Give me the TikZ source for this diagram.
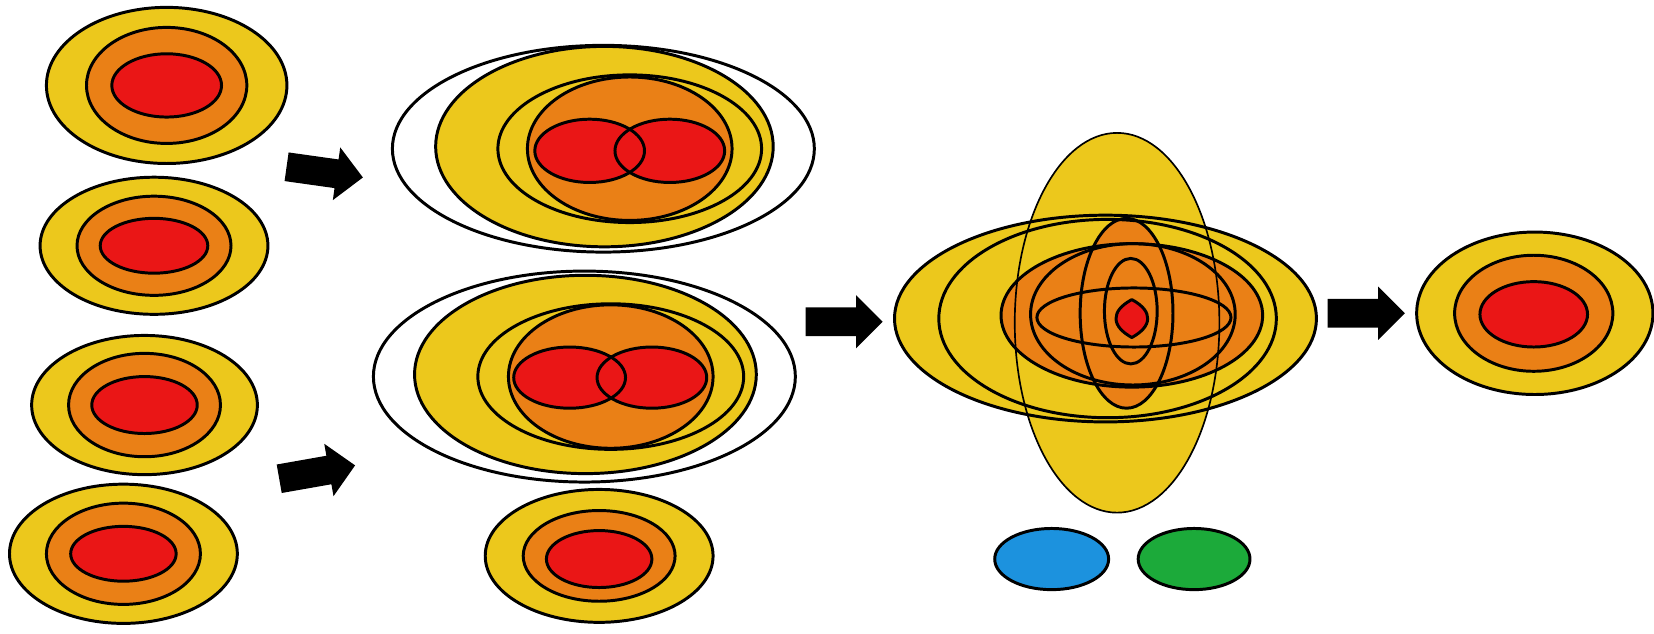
\documentclass[tikz,border=0pt]{standalone}
\usetikzlibrary{shapes.arrows}
\definecolor{ycol}{RGB}{236,200,28}
\definecolor{ocol}{RGB}{234,128,22}
\definecolor{rcol}{RGB}{234,22,22}
\definecolor{bcol}{RGB}{28,146,222}
\definecolor{gcol}{RGB}{28,170,58}
\begin{document}
\begin{tikzpicture}[x=0.01cm,y=-0.01cm,
  ln/.style={draw=black,line width=0.8pt},
  hairln/.style={draw=black,line width=0.45pt},
  fatarrow/.style={single arrow,fill=black,draw=none,inner xsep=0pt,inner ysep=0.13cm,
    minimum height=0.73cm,single arrow head extend=0.115cm,single arrow tip angle=90,anchor=tail}]
\fill[white] (0,0) rectangle (1568,601);
\useasboundingbox (0,0) rectangle (1568,601);

% left column
\foreach \cx/\cy/\ra/\rb/\rc/\rd/\re/\rf in {158/81/114/74/76/55/52/30, 146/233/108/65/73/47/51/26, 137/384/107/66/72/49/50/27, 117/525/108/66/73/48/50/26}{
  \draw[ln,fill=ycol] (\cx,\cy) ellipse [x radius=\ra,y radius=\rb];
  \draw[ln,fill=ocol] (\cx,\cy) ellipse [x radius=\rc,y radius=\rd];
  \draw[ln,fill=rcol] (\cx,\cy) ellipse [x radius=\re,y radius=\rf];
}

% top-middle merged group
\draw[ln] (572,141) ellipse [x radius=200,y radius=98];
\fill[ycol] (573,139) ellipse [x radius=160,y radius=95];
\fill[ocol] (597,141) ellipse [x radius=97,y radius=68];
\fill[rcol] (559,143) ellipse [x radius=52,y radius=30];
\fill[rcol] (635,143) ellipse [x radius=52,y radius=30];
\draw[ln] (573,139) ellipse [x radius=160,y radius=95];
\draw[ln] (597,141) ellipse [x radius=125,y radius=70];
\draw[ln] (597,141) ellipse [x radius=97,y radius=68];
\draw[ln] (559,143) ellipse [x radius=52,y radius=30];
\draw[ln] (635,143) ellipse [x radius=52,y radius=30];

% bottom-middle merged group
\draw[ln] (554,357) ellipse [x radius=200,y radius=100];
\fill[ycol] (555,355) ellipse [x radius=162,y radius=94];
\fill[ocol] (579,357) ellipse [x radius=97,y radius=68];
\fill[rcol] (540,358) ellipse [x radius=53,y radius=29];
\fill[rcol] (618,358) ellipse [x radius=52,y radius=29];
\draw[ln] (555,355) ellipse [x radius=162,y radius=94];
\draw[ln] (579,357) ellipse [x radius=126,y radius=69];
\draw[ln] (579,357) ellipse [x radius=97,y radius=68];
\draw[ln] (540,358) ellipse [x radius=53,y radius=29];
\draw[ln] (618,358) ellipse [x radius=52,y radius=29];

% bottom small
\draw[ln,fill=ycol] (568,527) ellipse [x radius=108,y radius=63];
\draw[ln,fill=ocol] (568,527) ellipse [x radius=72,y radius=43];
\draw[ln,fill=rcol] (568,530) ellipse [x radius=50,y radius=27];

% central group
\fill[ycol] (1059,306) ellipse [x radius=97,y radius=180];
\fill[ycol] (1048,302) ellipse [x radius=200,y radius=98];
\fill[ocol] (1073,299) ellipse [x radius=124,y radius=68];
\fill[ocol] (1068,297) ellipse [x radius=44,y radius=90];
\draw[hairln] (1059,306) ellipse [x radius=97,y radius=180];
\draw[ln] (1048,302) ellipse [x radius=200,y radius=98];
\draw[ln] (1050,302) ellipse [x radius=160,y radius=94];
\draw[ln] (1073,299) ellipse [x radius=124,y radius=68];
\draw[ln] (1074,298) ellipse [x radius=97,y radius=67];
\draw[ln] (1075,301) ellipse [x radius=92,y radius=28];
\draw[ln] (1068,297) ellipse [x radius=44,y radius=90];
\draw[ln] (1072,295) ellipse [x radius=25,y radius=50];
\draw[ln,fill=rcol,line join=round] (1073,284) .. controls (1084,290) and (1088,296) .. (1088,302)
   .. controls (1088,309) and (1082,315) .. (1073,320)
   .. controls (1064,315) and (1058,309) .. (1058,302)
   .. controls (1058,296) and (1062,290) .. cycle;

% blue and green
\draw[ln,fill=bcol] (997,530) ellipse [x radius=54,y radius=29];
\draw[ln,fill=gcol] (1132,530) ellipse [x radius=53,y radius=29];

% right result
\draw[ln,fill=ycol] (1455,297) ellipse [x radius=112,y radius=77];
\draw[ln,fill=ocol] (1454,297) ellipse [x radius=75,y radius=55];
\draw[ln,fill=rcol] (1454,298) ellipse [x radius=51,y radius=31];

% arrows
\node[fatarrow,rotate=-8] (a1) at (271,158) {};
\node[fatarrow,rotate=10] (a2) at (264,454) {};
\node[fatarrow] (a3) at (763,305) {};
\node[fatarrow] (a4) at (1258,297) {};
\end{tikzpicture}
\end{document}
